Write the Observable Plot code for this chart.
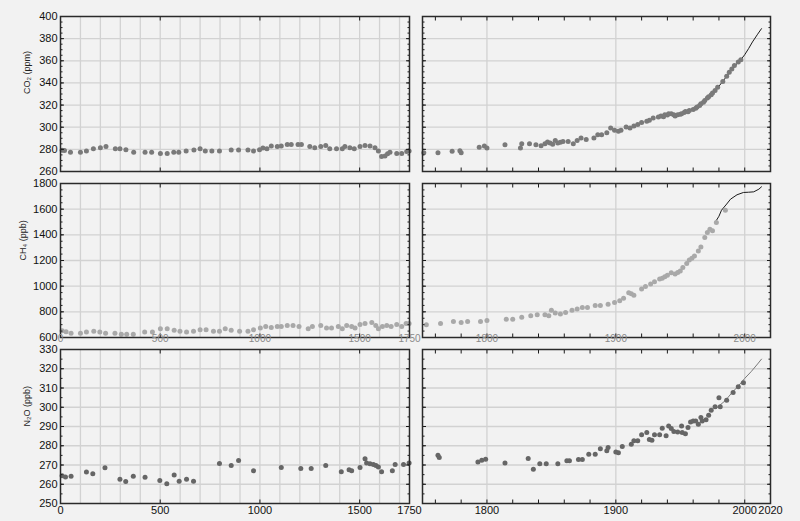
<!DOCTYPE html>
<html>
<head>
<meta charset="utf-8">
<script src="https://cdn.jsdelivr.net/npm/d3@7"></script>
<script src="https://cdn.jsdelivr.net/npm/@observablehq/plot@0.6"></script>
<style>
html, body { margin: 0; padding: 0; background: #f2f2f2; }
#chart { position: relative; width: 800px; height: 521px; background: #f2f2f2; overflow: hidden; }
#chart svg { position: absolute; overflow: visible; }
</style>
</head>
<body>
<div id="chart"></div>
<script>
// ---------- DATA ----------
// Ice-core / firn CO2 (ppm): [year, value]
const co2Ice = [
  [8,279.1],[20,279],[50,277.5],[100,277.5],[130,278.5],[165,280.6],[200,281.5],[228,282.5],[275,280.6],[298,280.6],
  [328,279.7],[367,277.5],[424,277.5],[457,277.5],[501,276.3],[535,276.3],[568,277.5],[593,277.5],[630,278.5],[669,279.4],
  [700,280.6],[726,278.5],[759,278.5],[797,278.5],[856,279.4],[893,279.4],[940,279.4],[968,278.5],[998,279.7],[1015,281.2],
  [1035,280.6],[1057,283],[1087,282.5],[1107,283],[1137,284.3],[1157,284.3],[1191,284.3],[1208,284.3],[1250,282.5],[1275,281.5],
  [1305,282.5],[1330,283.4],[1350,280.6],[1384,280.6],[1413,280.6],[1426,282.5],[1451,281.5],[1473,280.6],[1502,282.5],[1527,283.4],
  [1552,283],[1577,281.5],[1594,278.5],[1610,273.5],[1627,274],[1640,276],[1652,277.5],[1686,276.3],[1711,276.3],[1736,278],[1748,278.5],
  [1751,277],[1762,277],[1773,278.2],[1779,278.8],[1780,277],[1794,282],[1798,283],[1800,281.2],[1814,284.2],[1826,281.2],
  [1827,285],[1833,285],[1838,284.2],[1842,283.3],[1845,285],[1847,286.6],[1849,285.7],[1851,284.6],[1853,288],[1855,285.7],
  [1857,286.4],[1859,287.2],[1863,287.2],[1867,285],[1870,288],[1873,290.2],[1877,289],[1883,290.2],[1886,293.2],[1889,293.2],
  [1893,295],[1896,299.4],[1899,297.3],[1902,296.3],[1904,297.3],[1908,300.3],[1911,299.4],[1914,301.2],[1917,302.4],[1920,304.2],
  [1924,305.4],[1926,306.3],[1929,308.4],[1933,309.2],[1935,310.1],[1937,309.4],[1938,311.3],[1940,311],[1941,312.2],[1943,312.2],
  [1945,311.2],[1946,310.1],[1948,311.3],[1950,311.6],[1951,312.2],[1953,313.2],[1954,314.3],[1956,314],[1957,315.2],[1960,316.1],
  [1962,317.2],[1963,318.2],[1965,319.6],[1966,321.2],[1968,322.6],[1969,324.2],[1971,326.3],[1972,327.6],[1974,329.3],[1975,331],
  [1977,333.2],[1979,336.2],[1983,341.3],[1986,346],[1988,349.7],[1990,352.6],[1992,355.8],[1995,358.8],[1997,360.9]
];
// Instrumental CO2 record (ppm)
const co2Line = [[1978,334],[1982,340],[1986,346],[1990,352],[1994,357.5],[1997,361],[2000,365.5],[2003,371],[2006,377],[2010,384],[2013,389]];

// Ice-core / firn CH4 (ppb)
const ch4Ice = [
  [8,652],[28,644],[53,634],[100,634],[130,642],[167,649],[197,642],[226,634],[273,634],[305,626],[332,626],[365,626],
  [422,642],[461,642],[501,668],[535,668],[570,657],[599,649],[632,642],[667,649],[700,660],[730,660],[767,649],[797,649],
  [826,668],[856,657],[898,649],[940,649],[968,660],[1002,675],[1029,686],[1057,678],[1087,686],[1107,686],[1137,694],
  [1166,694],[1196,686],[1242,668],[1263,686],[1305,694],[1334,675],[1359,675],[1393,686],[1413,668],[1435,694],[1460,686],
  [1477,675],[1502,701],[1527,709],[1561,717],[1581,694],[1594,668],[1614,686],[1636,694],[1658,686],[1686,701],[1711,686],
  [1733,709],[1748,709],
  [1753,699],[1764,709],[1774,725],[1780,717],[1785,725],[1795,725],[1800,732],[1815,743],[1820,743],[1827,758],[1834,769],
  [1839,777],[1845,777],[1848,769],[1850,813],[1853,790],[1857,784],[1861,795],[1866,813],[1870,823],[1874,834],[1878,834],
  [1884,849],[1888,849],[1894,860],[1899,873],[1903,886],[1906,906],[1910,948],[1912,940],[1914,930],[1920,977],[1923,997],
  [1927,1016],[1930,1034],[1934,1055],[1936,1062],[1938,1073],[1940,1086],[1943,1104],[1946,1094],[1948,1106],[1950,1119],
  [1952,1145],[1955,1177],[1957,1203],[1959,1218],[1961,1236],[1964,1275],[1966,1306],[1969,1379],[1971,1418],[1973,1444],
  [1975,1431],[1978,1496],[1985,1592]
];
// Instrumental CH4 record (ppb)
const ch4Line = [[1977,1496],[1980,1545],[1982,1592],[1986,1640],[1989,1678],[1994,1712],[1999,1730],[2003,1732],[2007,1735],[2011,1756],[2013,1774]];

// Ice-core / firn N2O (ppb)
const n2oIce = [
  [8,264.4],[25,263.8],[53,264.2],[130,266.4],[162,265.4],[223,268.6],[298,262.6],[327,261.4],[365,264.2],[424,263.6],
  [498,261.9],[533,260.3],[570,264.8],[595,261.6],[632,262.6],[667,261.6],[797,270.8],[856,269.8],[893,272.4],[968,267],
  [1107,268.7],[1205,268.2],[1257,268.2],[1330,269.8],[1408,266.5],[1447,267.5],[1460,267],[1502,268.7],[1527,273.2],
  [1535,271],[1552,270.6],[1569,270.3],[1582,269.8],[1594,268.9],[1610,266.5],[1664,267],[1678,270.3],[1720,270.3],[1748,271],
  [1762,275.1],[1763,273.9],[1793,271.6],[1796,272.5],[1799,273],[1814,271.1],[1832,273.4],[1836,267.8],[1841,270.6],
  [1846,270.6],[1855,270.6],[1862,272.2],[1864,272.2],[1871,272.9],[1874,272.9],[1879,275.6],[1884,275.6],[1888,278.4],
  [1893,277.4],[1894,279.1],[1900,276.8],[1902,276.3],[1905,279.6],[1912,280.8],[1914,282.6],[1917,282.6],[1920,285.7],
  [1924,286.9],[1926,283.2],[1928,282.9],[1930,285.7],[1934,285.7],[1936,289.1],[1939,285.2],[1941,290.2],[1943,289],
  [1945,287.4],[1948,287.1],[1951,290.2],[1951.5,286.9],[1954,286.2],[1956,289.5],[1958,292.4],[1960,292.9],[1962,292.9],
  [1964,291.2],[1966,294.7],[1967,292.9],[1970,293.5],[1972,295.9],[1974,298.5],[1977,300.2],[1980,304.9],[1981,300.2],
  [1986,303.7],[1991,307.7],[1995,310.6],[1999,312.7]
];
// Instrumental N2O record (ppb)
const n2oLine = [[1978,299.5],[1985,303.5],[1990,307.5],[1995,311],[2000,315],[2005,318.5],[2010,322.5],[2013,325]];

// Tick values and labels
const co2Major = [260,280,300,320,340,360,380,400];
const ch4Major = [600,800,1000,1200,1400,1600,1800];
const n2oMajor = [250,260,270,280,290,300,310,320,330];
const co2Minor = d3.range(260, 401, 5);
const ch4Minor = d3.range(600, 1801, 50);
const n2oMinor = d3.range(250, 331, 5);
const leftGrid = [100,200,300,400,500,600,700,800,900,1000,1100,1200,1300,1400,1500,1600,1700];
const rightGrid = [1800,1900,2000];
const leftTicks = [500,1000,1500];
const rightTicks = [1760,1780,1800,1820,1840,1860,1880,1900,1920,1940,1960,1980,2000];
const leftLabels = [0,500,1000,1500,1750];
const rightLabels = [1800,1900,2000,2020];
const leftMidLabels = [0,500,1000,1500,1750];
const rightMidLabels = [1800,1900,2000];
const rowTitles = ["CO₂ (ppm)", "CH₄ (ppb)", "N₂O (ppb)"];

// ---------- LAYOUT ----------
const FONT = '"Liberation Sans", Arial, Helvetica, sans-serif';
const chart = document.getElementById("chart");

const cols = [
  {domain: [0, 1750], grid: leftGrid, ticks: leftTicks, labels: leftLabels, midLabels: leftMidLabels, left: 60, w: 349},
  {domain: [1750, 2020], grid: rightGrid, ticks: rightTicks, labels: rightLabels, midLabels: rightMidLabels, left: 422, w: 348}
];
const rows = [
  {title: rowTitles[0], domain: [260, 400], major: co2Major, minor: co2Minor, dots: co2Ice, line: co2Line, dotFill: "#7a7a7a", lineStroke: "#1c1c1c", top: 16, h: 155, titleDx: -33},
  {title: rowTitles[1], domain: [600, 1800], major: ch4Major, minor: ch4Minor, dots: ch4Ice, line: ch4Line, dotFill: "#a9a9a9", lineStroke: "#1c1c1c", top: 183, h: 154, titleDx: -37},
  {title: rowTitles[2], domain: [250, 330], major: n2oMajor, minor: n2oMinor, dots: n2oIce, line: n2oLine, dotFill: "#666666", lineStroke: "#7a7a7a", top: 349, h: 154, titleDx: -33}
];

const mT = 12, mB = 26, mL = 12, mR = 12;
const fmt = d => String(d);

rows.forEach((row, ri) => {
  cols.forEach((col, ci) => {
    const inDom = d => d[0] >= col.domain[0] && d[0] <= col.domain[1];
    const marks = [
      Plot.ruleX(col.grid, {stroke: "#d2d2d2", strokeWidth: 1.3}),
      Plot.ruleY(row.major.filter(v => v > row.domain[0] && v < row.domain[1]), {stroke: "#d2d2d2", strokeWidth: 1.3}),
      Plot.line(row.line.filter(inDom), {x: d => d[0], y: d => d[1], stroke: row.lineStroke, strokeWidth: 1}),
      Plot.dot(row.dots.filter(inDom), {x: d => d[0], y: d => d[1], r: 2.5, fill: row.dotFill}),
      Plot.axisX(col.ticks, {anchor: "bottom", tickSize: 3.5, dy: -3.5, fill: "none", label: null, stroke: "#1a1a1a"}),
      Plot.axisX(col.ticks, {anchor: "top", tickSize: 3.5, dy: 3.5, fill: "none", label: null, stroke: "#1a1a1a"}),
      Plot.axisY(row.major, {anchor: "left", tickSize: 4, dx: 4, fill: "none", label: null, stroke: "#1a1a1a"}),
      Plot.axisY(row.minor, {anchor: "left", tickSize: 2.5, dx: 2.5, fill: "none", label: null, stroke: "#1a1a1a"}),
      Plot.axisY(row.major, {anchor: "right", tickSize: 4, dx: -4, fill: "none", label: null, stroke: "#1a1a1a"}),
      Plot.axisY(row.minor, {anchor: "right", tickSize: 2.5, dx: -2.5, fill: "none", label: null, stroke: "#1a1a1a"}),
      Plot.frame({stroke: "#2a2a2a", strokeWidth: 1.5})
    ];
    if (ci === 0) {
      marks.push(Plot.axisY(row.major, {anchor: "left", tickSize: 0, tickPadding: 3, label: null, fontSize: 11, fill: "#111", tickFormat: fmt}));
      marks.push(Plot.text([row.title], {text: d => d, frameAnchor: "left", dx: row.titleDx, rotate: -90, fontSize: 9, fill: "#222"}));
    }
    if (ri === 2) {
      marks.push(Plot.axisX(col.labels, {anchor: "bottom", tickSize: 0, tickPadding: 3, label: null, fontSize: 11, fill: "#111", tickFormat: fmt}));
    }
    if (ri === 1) {
      marks.push(Plot.text(col.midLabels, {x: d => d, text: d => String(d), frameAnchor: "bottom", dy: 4, fontSize: 10, fill: "#8a8a8a", ariaLabel: "squish"}));
    }
    const width = mL + col.w + mR, height = mT + row.h + mB;
    const svg = Plot.plot({
      width, height,
      marginTop: mT, marginBottom: mB, marginLeft: mL, marginRight: mR,
      x: {domain: col.domain, axis: null},
      y: {domain: row.domain, axis: null},
      style: {background: "transparent", overflow: "visible", fontFamily: FONT, fontSize: "11px", color: "#111"},
      marks
    });
    svg.style.position = "absolute";
    svg.style.left = (col.left - mL) + "px";
    svg.style.top = (row.top - mT) + "px";
    svg.style.maxWidth = "none";
    d3.select(svg).selectAll('g[aria-label="squish"] text').each(function () {
      const x = this.getAttribute("x"), y = this.getAttribute("y");
      let t = this.getAttribute("transform") || "";
      if (x !== null || y !== null) {
        t = `translate(${x || 0},${y || 0}) ` + t;
        this.removeAttribute("x"); this.removeAttribute("y");
      }
      this.setAttribute("transform", t + " scale(1,0.3)");
    });
    chart.appendChild(svg);
  });
});
</script>
</body>
</html>
